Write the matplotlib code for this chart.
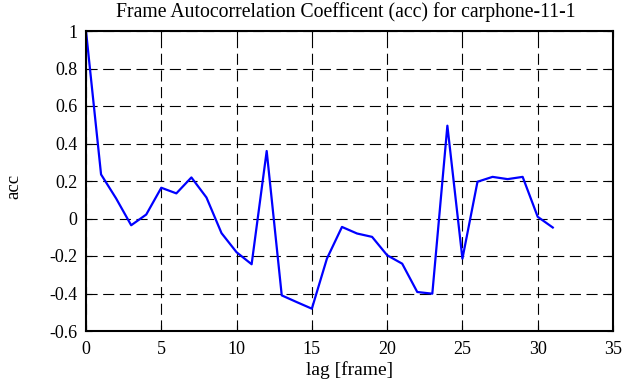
import matplotlib
matplotlib.use("Agg")
import matplotlib.pyplot as plt

lags = list(range(32))
acc = [1.0, 0.235, 0.107, -0.036, 0.021, 0.164, 0.134, 0.219, 0.112, -0.078,
       -0.18, -0.244, 0.36, -0.41, -0.446, -0.481, -0.214, -0.045, -0.08, -0.098,
       -0.196, -0.241, -0.392, -0.401, 0.495, -0.214, 0.196, 0.222, 0.21, 0.222,
       0.009, -0.048]

xticks = [0, 5, 10, 15, 20, 25, 30, 35]
yticks = [-0.6, -0.4, -0.2, 0, 0.2, 0.4, 0.6, 0.8, 1]
ytick_labels = ["-0.6", "-0.4", "-0.2", "0", "0.2", "0.4", "0.6", "0.8", "1"]

plt.rcParams['font.family'] = ['Liberation Serif', 'DejaVu Serif']
plt.rcParams['font.size'] = 13

fig = plt.figure(figsize=(6.41, 3.87), dpi=100)
ax = fig.add_axes([86/641, 1 - 331/387, (613-86)/641, (331-31)/387])

ax.plot(lags, acc, color='#0000ff', linewidth=1.6)
ax.set_xlim(0, 35)
ax.set_ylim(-0.6, 1)
ax.set_xticks(xticks)
ax.set_yticks(yticks)
ax.set_yticklabels(ytick_labels)
ax.grid(True, color='black', linestyle=(0, (10, 5)), linewidth=0.8)
ax.tick_params(direction='in', top=True, right=True, length=4, width=0.8, labelsize=13)
ax.tick_params(axis='x', pad=7)
ax.tick_params(axis='y', pad=6)
for s in ax.spines.values():
    s.set_linewidth(1.5)

ax.set_title("Frame Autocorrelation Coefficent (acc) for carphone-11-1",
             fontsize=14.2, x=(345.5 - 86) / 527, y=1.0, pad=10)
ax.set_xlabel("lag [frame]", fontsize=14)
ax.xaxis.set_label_coords(0.5, (331 - 370) / 300)
ax.xaxis.label.set_va('center')
ax.set_ylabel("acc", fontsize=13.5)
ax.yaxis.set_label_coords((14 - 86) / 527, (331 - 186) / 300)
ax.yaxis.label.set_va('center')

fig.savefig("out.png", dpi=100)
